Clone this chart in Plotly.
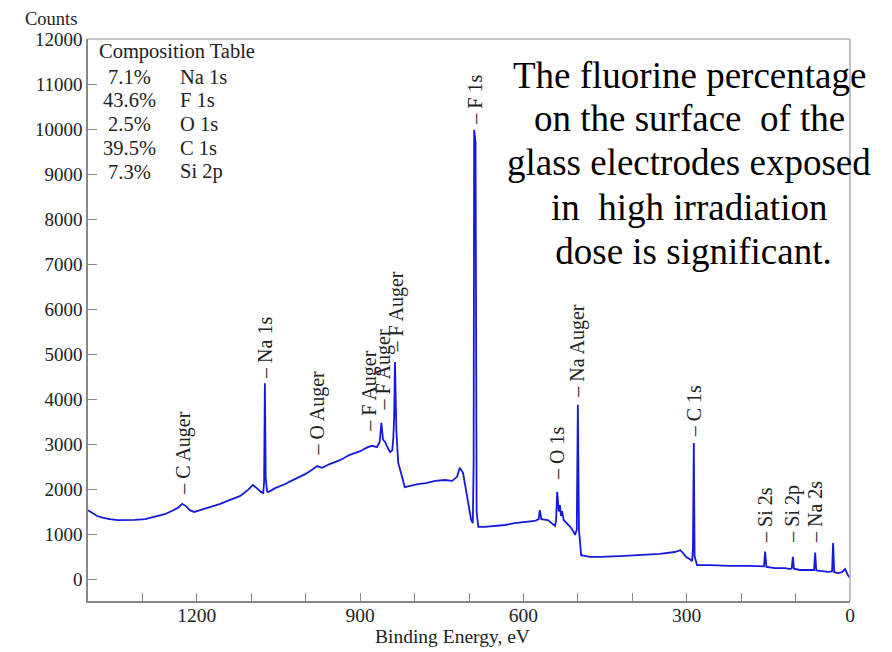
import plotly.graph_objects as go

# ---- spectrum (binding energy eV, counts) ----
be = [1400, 1393, 1383, 1372, 1360, 1345, 1330, 1314, 1295, 1277, 1259, 1246, 1235, 1227, 1220,
      1213, 1205, 1194, 1176, 1157, 1139, 1121, 1106, 1097, 1090, 1082, 1078, 1076.5, 1075, 1073.5,
      1071, 1069, 1056, 1038, 1020, 1001, 987, 979, 970, 955, 937, 919, 900, 886, 878,
      869, 864, 861, 858, 854, 851, 845, 841, 839, 837.5, 836, 833.5, 830, 823, 818,
      808, 794, 779, 762, 744, 731, 722, 717, 711, 706, 700, 696, 693, 691.5, 690.5,
      688, 686, 683, 671, 652, 634, 616, 597, 579, 572, 570, 567, 555, 546, 542,
      540, 538, 535, 533, 531, 529, 526, 520, 514, 509, 505, 502, 500, 498, 494,
      478, 459, 423, 386, 349, 322, 312, 307, 301, 294, 290, 288.5, 287, 285.5, 281,
      257, 221, 184, 162, 158, 156, 153.5, 138, 119, 110, 107, 105, 103, 92,
      73, 66, 64, 62, 55, 40, 33, 31, 29, 22, 15, 9, 4, 0]
counts = [1530, 1470, 1400, 1360, 1330, 1310, 1305, 1315, 1330, 1380, 1440, 1510, 1580, 1670, 1620,
          1530, 1490, 1530, 1600, 1670, 1760, 1840, 1980, 2090, 2020, 1930, 1910, 2150, 4350, 2250,
          1950, 1930, 2020, 2110, 2220, 2330, 2440, 2510, 2470, 2560, 2640, 2760, 2840, 2930, 2960,
          2930, 3050, 3470, 3100, 3040, 2960, 2820, 2860, 3150, 3600, 4820, 3300, 2580, 2270, 2040,
          2070, 2110, 2130, 2180, 2200, 2180, 2270, 2470, 2360, 2020, 1530, 1310, 1240, 2600, 9980,
          9700, 1500, 1160, 1160, 1180, 1200, 1240, 1270, 1290, 1330, 1530, 1330, 1310, 1220, 1180,
          1300, 1940, 1500, 1640, 1400, 1510, 1310, 1240, 1160, 1070, 980, 1100, 3870, 1100, 530,
          490, 490, 510, 530, 560, 600, 640, 580, 490, 440, 400, 700, 3020, 500, 310,
          310, 290, 290, 270, 280, 610, 270, 240, 240, 220, 240, 490, 230, 200,
          200, 200, 590, 190, 180, 160, 170, 800, 150, 130, 150, 220, 90, 20]

# ---- peak labels ----
label_text = ["C Auger", "Na 1s", "O Auger", "F Auger", "F Auger", "F Auger", "F 1s",
              "O 1s", "Na Auger", "C 1s", "Si 2s", "Si 2p", "Na 2s"]
label_be = [1226, 1075, 979, 882, 858, 834, 689, 538, 500, 287, 156, 105, 64]
label_counts = [1820, 4400, 2690, 3240, 3690, 4980, 10050, 2150, 3980, 3100, 760, 760, 760]

# ---- composition table ----
comp_title = "Composition Table"
comp_pct = ["7.1%", "43.6%", "2.5%", "39.5%", "7.3%"]
comp_name = ["Na 1s", "F 1s", "O 1s", "C 1s", "Si 2p"]

note_lines = ["The fluorine percentage", "on the surface \u00a0of the", "glass electrodes exposed",
              "in \u00a0high irradiation", "\u00a0dose is significant."]

x_tickvals = list(range(0, 1400, 100))
x_ticktext = [str(v) if v % 300 == 0 else "" for v in x_tickvals]
y_tickvals = list(range(0, 12001, 1000))
y_ticktext = [str(v) for v in y_tickvals]

SERIF = "Liberation Serif"

fig = go.Figure()
fig.add_trace(go.Scatter(x=be, y=counts, mode="lines",
                         line=dict(color="#1818dc", width=1.8), showlegend=False))

# page has an 8px body margin: figure is placed at (8, 8) in the window
OFF = 8
W, H = 876, 644
ml, mr, mt, mb = 80, 34, 31, 51
pw, ph = W - ml - mr, H - mt - mb


def px(xs):
    return (xs - OFF - ml) / pw


def py(ys):
    return (H - mb - (ys - OFF)) / ph


ann = []
for t, xb, yc in zip(label_text, label_be, label_counts):
    ann.append(dict(x=xb, y=yc, xref="x", yref="y", text="\u2013 " + t, textangle=-90,
                    showarrow=False, xanchor="center", yanchor="bottom",
                    font=dict(family=SERIF, size=20, color="#222")))

ann.append(dict(x=px(97), y=py(52), xref="paper", yref="paper", text=comp_title,
                showarrow=False, xanchor="left", yanchor="middle",
                font=dict(family=SERIF, size=20.5, color="#222")))
row_y = [77, 100, 124, 148, 172]
for p, n, ry in zip(comp_pct, comp_name, row_y):
    ann.append(dict(x=px(129), y=py(ry), xref="paper", yref="paper", text=p, showarrow=False,
                    xanchor="center", yanchor="middle",
                    font=dict(family=SERIF, size=20.5, color="#222")))
    ann.append(dict(x=px(178), y=py(ry), xref="paper", yref="paper", text=n, showarrow=False,
                    xanchor="left", yanchor="middle",
                    font=dict(family=SERIF, size=20.5, color="#222")))

ann.append(dict(x=px(51), y=py(19), xref="paper", yref="paper", text="Counts", showarrow=False,
                xanchor="center", yanchor="middle", font=dict(family=SERIF, size=18.5, color="#222")))
ann.append(dict(x=px(452), y=py(636), xref="paper", yref="paper", text="Binding Energy, eV",
                showarrow=False, xanchor="center", yanchor="middle",
                font=dict(family=SERIF, size=19.5, color="#222")))

note_y = [75, 119, 163, 207, 251]
for line, ny in zip(note_lines, note_y):
    ann.append(dict(x=px(689), y=py(ny), xref="paper", yref="paper", text=line, showarrow=False,
                    xanchor="center", yanchor="middle",
                    font=dict(family=SERIF, size=37, color="#000")))

fig.update_layout(
    width=W, height=H, margin=dict(l=ml, r=mr, t=mt, b=mb),
    paper_bgcolor="white", plot_bgcolor="white",
    annotations=ann,
    shapes=[dict(type="line", xref="paper", yref="paper", x0=0, x1=1, y0=1, y1=1,
                 line=dict(color="#b0b0b0", width=1.5)),
            dict(type="line", xref="paper", yref="paper", x0=1, x1=1, y0=0, y1=1,
                 line=dict(color="#b0b0b0", width=1.5))],
    xaxis=dict(range=[1400, 0], tickvals=x_tickvals, ticktext=x_ticktext, ticks="inside",
               ticklen=8, tickcolor="#888", showline=True, linecolor="#888", linewidth=1.5,
               showgrid=False, zeroline=False, ticklabelstandoff=-4,
               tickfont=dict(family=SERIF, size=19.5, color="#222")),
    yaxis=dict(range=[-489, 12000], tickvals=y_tickvals, ticktext=y_ticktext, ticks="inside",
               ticklen=9, tickcolor="#888", showline=True, linecolor="#888", linewidth=1.5,
               showgrid=False, zeroline=False,
               tickfont=dict(family=SERIF, size=19, color="#222")),
)

fig.write_html("out.html")
